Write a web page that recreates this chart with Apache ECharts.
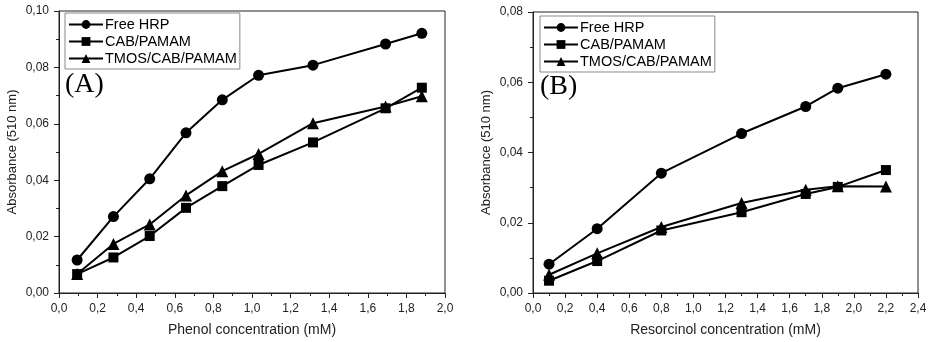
<!DOCTYPE html>
<html><head><meta charset="utf-8">
<script src="https://cdn.jsdelivr.net/npm/echarts@6/dist/echarts.min.js"></script>
<style>html,body{margin:0;padding:0;background:#fff}#c{width:934px;height:342px}</style>
</head><body><div id="c"></div>
<script>
var seriesNames = ['Free HRP', 'CAB/PAMAM', 'TMOS/CAB/PAMAM'];
var phenolX = [0.094, 0.282, 0.47, 0.658, 0.846, 1.034, 1.316, 1.692, 1.88];
var phenolFree = [0.0117, 0.0271, 0.0405, 0.0568, 0.0685, 0.0772, 0.0808, 0.0883, 0.0921];
var phenolCab = [0.0067, 0.0126, 0.0202, 0.0302, 0.0379, 0.0454, 0.0534, 0.0655, 0.0728];
var phenolTmos = [0.0067, 0.0174, 0.0243, 0.0346, 0.0432, 0.0493, 0.0602, 0.0661, 0.0698];
var resX = [0.1, 0.4, 0.8, 1.3, 1.7, 1.9, 2.2];
var resFree = [0.0082, 0.0183, 0.0341, 0.0454, 0.0531, 0.0583, 0.0623];
var resCab = [0.0035, 0.0091, 0.0178, 0.0230, 0.0282, 0.0302, 0.0350];
var resTmos = [0.0052, 0.0113, 0.0188, 0.0256, 0.0294, 0.0304, 0.0303];
var panelLabels = ['(A)', '(B)'];
var xTitles = ['Phenol concentration (mM)', 'Resorcinol concentration (mM)'];
var yTitle = 'Absorbance (510 nm)';

function pair(xs, ys){ return xs.map(function(x,i){ return [x, ys[i]]; }); }
function fmt(d){ return function(v){ return v.toFixed(d).replace('.', ','); }; }
var symbols = ['circle', 'rect', 'triangle'];
var symSizes = [11, 10, 12];
var FONT = 'Liberation Sans, Arial, sans-serif';

function xAxis(idx, max){
  return {type:'value', gridIndex: idx, min:0, max:max, interval:0.2,
    name: xTitles[idx], nameLocation:'middle', nameGap: 30,
    nameTextStyle:{color:'#222', fontSize:14, fontFamily:FONT},
    axisLine:{lineStyle:{color:'#222', width:1}},
    axisTick:{show:true, inside:false, length:5, lineStyle:{color:'#222'}},
    minorTick:{show:true, splitNumber:2, length:3, lineStyle:{color:'#222'}},
    splitLine:{show:false},
    axisLabel:{color:'#222', fontSize:12, fontFamily:FONT, margin:10, formatter: fmt(1)}};
}
function yAxis(idx, max){
  return {type:'value', gridIndex: idx, min:0, max:max, interval:0.02,
    name: yTitle, nameLocation:'middle', nameGap: 40,
    nameTextStyle:{color:'#222', fontSize:13, fontFamily:FONT},
    axisLine:{lineStyle:{color:'#222', width:1}},
    axisTick:{show:true, inside:false, length:5, lineStyle:{color:'#222'}},
    minorTick:{show:true, splitNumber:2, length:3, lineStyle:{color:'#222'}},
    splitLine:{show:false},
    axisLabel:{color:'#222', fontSize:12, fontFamily:FONT, margin:10, formatter: fmt(2)}};
}
function mk(name, data, k, idx){
  return {name:name, type:'line', xAxisIndex:idx, yAxisIndex:idx, data:data,
    symbol:symbols[k], symbolSize:symSizes[k], showSymbol:true,
    lineStyle:{color:'#000', width:2}, itemStyle:{color:'#000'}, animation:false};
}
function legend(idx, left, top){
  return {show:true, left:left, top:top, orient:'vertical', itemGap:2, itemWidth:34, itemHeight:11,
    padding:[4,3,3,3], borderColor:'#888', borderWidth:1, backgroundColor:'#fff',
    textStyle:{color:'#000', fontSize:14.5, fontFamily:FONT, padding:[0,0,0,-3]},
    data: seriesNames.map(function(n){ return {name:n}; }),
    selectedMode:false,
    inactiveColor:'#000'};
}
var chart = echarts.init(document.getElementById('c'));
var series = [];
var dA = [phenolFree, phenolCab, phenolTmos];
var dB = [resFree, resCab, resTmos];
for (var k=0;k<3;k++) series.push(mk(seriesNames[k], pair(phenolX, dA[k]), k, 0));
for (var k=0;k<3;k++) series.push(mk(seriesNames[k], pair(resX, dB[k]), k, 1));
chart.setOption({
  backgroundColor:'#fff',
  animation:false,
  grid:[{left:59, top:11, width:386, height:284, show:true, borderColor:'#222', borderWidth:1},
        {left:533, top:12, width:385, height:284, show:true, borderColor:'#222', borderWidth:1}],
  xAxis:[xAxis(0, 2.0), xAxis(1, 2.4)],
  yAxis:[yAxis(0, 0.10), yAxis(1, 0.08)],
  legend:[legend(0, 65, 13), legend(1, 540, 16)],
  graphic:[
    {type:'text', left:65, top:71, style:{text:panelLabels[0], font:'28px "Liberation Serif", "Times New Roman", serif', fill:'#000'}},
    {type:'text', left:540, top:73, style:{text:panelLabels[1], font:'28px "Liberation Serif", "Times New Roman", serif', fill:'#000'}}
  ],
  series: series
});
</script></body></html>
